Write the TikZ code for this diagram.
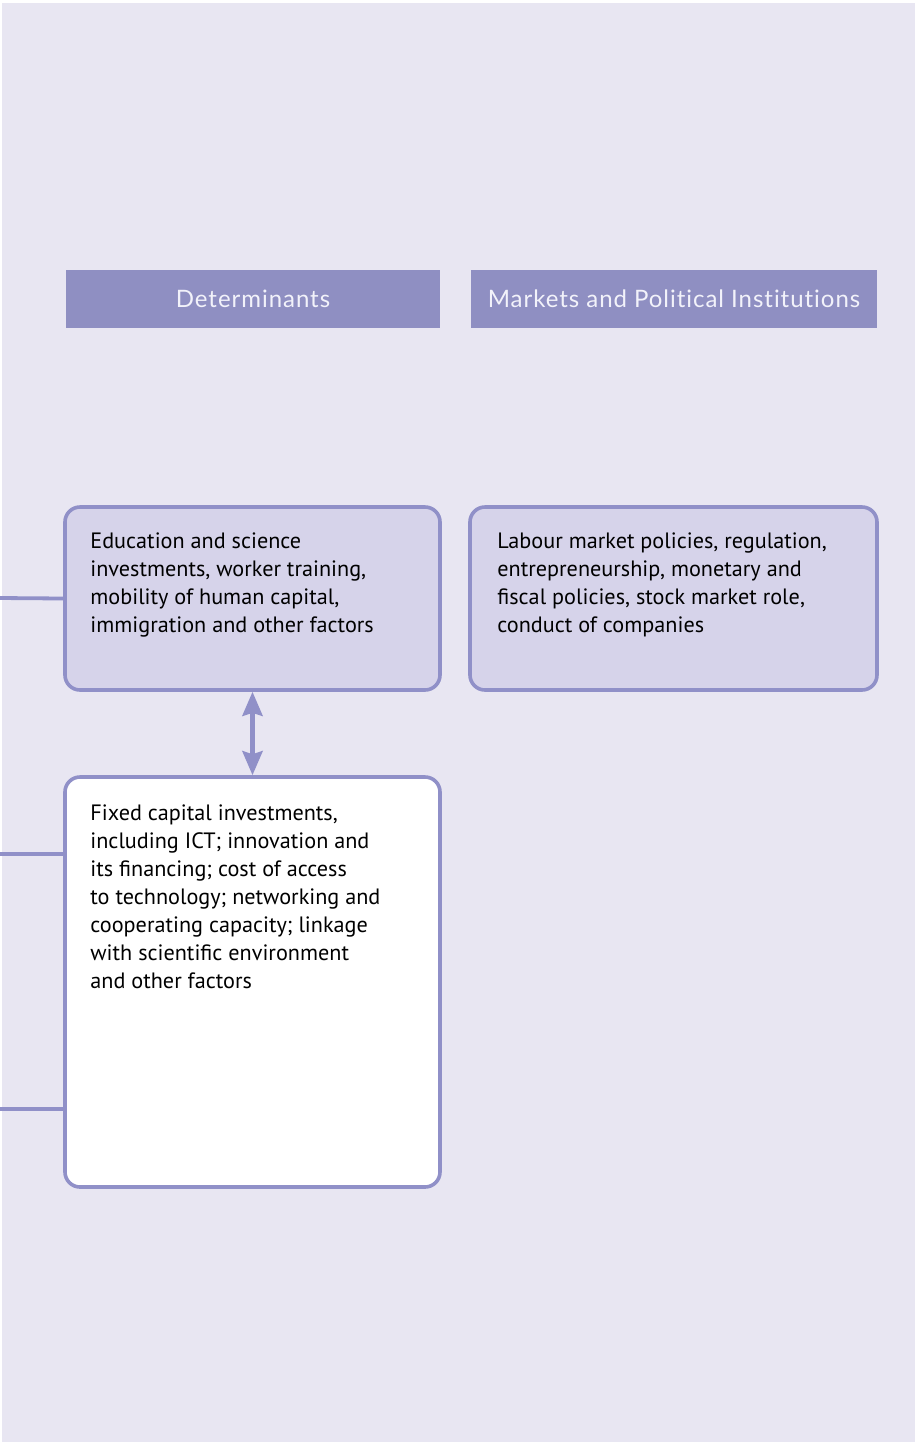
\documentclass[tikz,border=0pt]{standalone}
\usepackage{fontspec}
\setmainfont{PT Sans}
\newfontfamily\headfont[LetterSpace=4, Ligatures={NoCommon, NoDiscretionary}]{Lato}
\usetikzlibrary{arrows.meta}

\definecolor{pagebg}{rgb}{0.910, 0.902, 0.949}
\definecolor{headfill}{rgb}{0.561, 0.561, 0.761}
\definecolor{boxline}{rgb}{0.565, 0.565, 0.784}
\definecolor{boxfill}{rgb}{0.839, 0.827, 0.918}
\definecolor{headtext}{rgb}{0.950, 0.950, 0.980}

\newlength{\du}
\setlength{\du}{0.5pt}

\tikzset{
  headbox/.style={fill=headfill, text=headtext, minimum height=58\du, inner sep=0pt,
    font=\headfont\fontsize{12}{14}\selectfont},
  factorbox/.style={draw=boxline, line width=1.8pt, rounded corners=7.5pt, inner sep=0pt},
  factortext/.style={anchor=north west, align=left, inner sep=0pt, text=black,
    font=\fontsize{11.1}{14}\selectfont},
  link/.style={draw=boxline, line width=1.9pt},
}

\begin{document}
\begin{tikzpicture}
\pgftransformxscale{1.000000}
\pgftransformyscale{-1.000000}

\useasboundingbox (0,0) rectangle (915\du,1442\du);
\fill[pagebg] (2\du,3\du) rectangle (915\du,1442\du);

\node[headbox, minimum width=374\du] (det) at (253\du,299\du) {Determinants};
\node[headbox, minimum width=406\du] (mkt) at (674\du,299\du) {Markets and Political Institutions};

\node[factorbox, fill=boxfill, minimum width=375\du, minimum height=183\du] (edu) at (252.5\du,598.5\du) {};
\node[factorbox, fill=boxfill, minimum width=407\du, minimum height=183\du] (lab) at (673.5\du,598.5\du) {};
\node[factorbox, fill=white, minimum width=375\du, minimum height=410\du] (fix) at (252.5\du,982\du) {};

\node[factortext] (edutxt) at (90\du,532\du) {Education and science\\investments, worker training,\\mobility of human capital,\\immigration and other factors};
\node[factortext] (labtxt) at (497\du,532\du) {Labour market policies, regulation,\\entrepreneurship, monetary and\\fiscal policies, stock market role,\\conduct of companies};
\node[factortext] (fixtxt) at (90\du,804\du) {Fixed capital investments,\\including ICT; innovation and\\its financing; cost of access\\to technology; networking and\\cooperating capacity; linkage\\with scientific environment\\and other factors};

\draw[link, line width=2.3pt, {Stealth[length=12pt, width=10pt, inset=1.5pt]}-{Stealth[length=12pt, width=10pt, inset=1.5pt]}] (edu.south) -- (fix.north);

% lines coming in from the left
\coordinate (in1) at (0,598\du);
\coordinate (in2) at (0,854\du);
\coordinate (in3) at (0,1109\du);
\draw[link] (in1) -- (edu.west);
\draw[link] (in2) -- (in2 -| fix.west);
\draw[link] (in3) -- (in3 -| fix.west);

\end{tikzpicture}
\end{document}
